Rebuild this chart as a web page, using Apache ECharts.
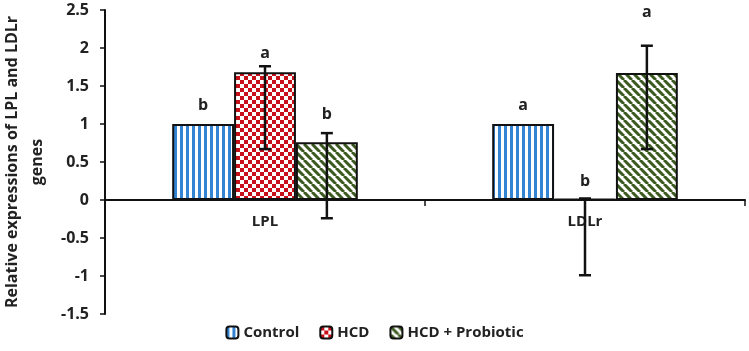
<!DOCTYPE html>
<html>
<head>
<meta charset="utf-8">
<script src="https://cdn.jsdelivr.net/npm/echarts@6/dist/echarts.min.js"></script>
<style>
  html, body { margin: 0; padding: 0; background: #fff; }
  #chart { width: 749px; height: 351px; }
</style>
</head>
<body>
<div id="chart"></div>
<script>
// data
const categories = ['LPL', 'LDLr'];
const seriesNames = ['Control', 'HCD', 'HCD + Probiotic'];
const controlValues = [1.0, 1.0];
const hcdValues = [1.68, 0.01];
const probioticValues = [0.76, 1.67];
// error bar ends [low, high]
const controlErr = [null, null];
const hcdErr = [[0.67, 1.76], [-0.99, 0.02]];
const probioticErr = [[-0.24, 0.88], [0.67, 2.03]];
// significance letters and their heights
const controlLetters = ['b', 'a'];
const hcdLetters = ['a', 'b'];
const probioticLetters = ['b', 'a'];
const controlLetterY = [1.25, 1.25];
const hcdLetterY = [1.93, 0.25];
const probioticLetterY = [1.12, 2.47];

const FONT = '"Open Sans", sans-serif';

function makePattern(kind) {
    const c = document.createElement('canvas');
    const ctx = c.getContext('2d');
    if (kind === 'stripes') {
        c.width = 6; c.height = 6;
        ctx.fillStyle = '#ffffff';
        ctx.fillRect(0, 0, 6, 6);
        ctx.fillStyle = '#3384d2';
        ctx.fillRect(0, 0, 3, 6);
    } else if (kind === 'checker') {
        c.width = 8; c.height = 8;
        ctx.fillStyle = '#ffffff';
        ctx.fillRect(0, 0, 8, 8);
        ctx.fillStyle = '#c8101a';
        ctx.fillRect(0, 0, 4, 4);
        ctx.fillRect(4, 4, 4, 4);
    } else {
        c.width = 8; c.height = 8;
        ctx.fillStyle = '#ffffff';
        ctx.fillRect(0, 0, 8, 8);
        ctx.strokeStyle = '#3b5a1f';
        ctx.lineWidth = 3;
        ctx.beginPath();
        for (let k = -8; k <= 16; k += 8) {
            ctx.moveTo(k, 0);
            ctx.lineTo(k + 8, 8);
        }
        ctx.stroke();
    }
    return { image: c, repeat: 'repeat' };
}

const patterns = [makePattern('stripes'), makePattern('checker'), makePattern('diag')];
const values = [controlValues, hcdValues, probioticValues];
const errs = [controlErr, hcdErr, probioticErr];
const letters = [controlLetters, hcdLetters, probioticLetters];
const letterY = [controlLetterY, hcdLetterY, probioticLetterY];

const barGroupRatio = 0.58;

function errorSeries(idx) {
    const data = categories.map((c, i) => [i, values[idx][i],
        errs[idx][i] ? errs[idx][i][0] : NaN,
        errs[idx][i] ? errs[idx][i][1] : NaN,
        letterY[idx][i]]);
    return {
        type: 'custom',
        name: seriesNames[idx] + ' err',
        silent: true,
        z: 10,
        data: data,
        renderItem: function (params, api) {
            const cat = api.value(0);
            const bandW = api.size([1, 0])[0];
            const bw = bandW * barGroupRatio / 3;
            const dx = (idx - 1) * bw;
            const children = [];
            const lo = api.value(2), hi = api.value(3);
            if (!isNaN(lo)) {
                const pLo = api.coord([cat, lo]);
                const pHi = api.coord([cat, hi]);
                const x = pLo[0] + dx;
                const style = { stroke: '#111', lineWidth: 2.5 };
                children.push({ type: 'line', shape: { x1: x, y1: pLo[1], x2: x, y2: pHi[1] }, style: style });
                children.push({ type: 'line', shape: { x1: x - 6, y1: pLo[1], x2: x + 6, y2: pLo[1] }, style: style });
                children.push({ type: 'line', shape: { x1: x - 6, y1: pHi[1], x2: x + 6, y2: pHi[1] }, style: style });
            }
            const pL = api.coord([cat, api.value(4)]);
            children.push({
                type: 'text',
                x: pL[0] + dx,
                y: pL[1],
                style: {
                    text: letters[idx][params.dataIndex],
                    fill: '#222',
                    font: 'bold 16px ' + FONT,
                    align: 'center',
                    verticalAlign: 'middle'
                }
            });
            return { type: 'group', children: children };
        }
    };
}

// category names drawn just under the zero line
const catLabelSeries = {
    type: 'custom',
    silent: true,
    z: 5,
    data: categories.map((c, i) => [i, 0]),
    renderItem: function (params, api) {
        const p = api.coord([api.value(0), 0]);
        return {
            type: 'text',
            x: p[0],
            y: p[1] + 22,
            style: {
                text: categories[params.dataIndex],
                fill: '#222',
                font: 'bold 15px ' + FONT,
                align: 'center',
                verticalAlign: 'middle'
            }
        };
    }
};

const chart = echarts.init(document.getElementById('chart'));

const barSeries = seriesNames.map((name, idx) => ({
    name: name,
    type: 'bar',
    data: values[idx],
    barGap: '0%',
    barCategoryGap: '42%',
    itemStyle: {
        color: patterns[idx],
        borderColor: '#111',
        borderWidth: 2
    }
}));

const option = {
    animation: false,
    grid: { left: 105, right: 4, top: 10, bottom: 37, containLabel: false, outerBoundsMode: 'none' },
    legend: {
        data: seriesNames,
        bottom: 6,
        left: 'center',
        itemWidth: 12,
        itemHeight: 12,
        itemGap: 20,
        textStyle: { fontFamily: FONT, fontWeight: 'bold', fontSize: 15, color: '#222' }
    },
    xAxis: {
        type: 'category',
        data: categories,
        axisLine: { onZero: true, lineStyle: { color: '#111', width: 2 } },
        axisTick: { show: true, length: 6, lineStyle: { color: '#111', width: 1.5 } },
        axisLabel: { show: false }
    },
    yAxis: {
        type: 'value',
        min: -1.5,
        max: 2.5,
        interval: 0.5,
        name: 'Relative expressions of LPL and LDLr\ngenes',
        nameLocation: 'middle',
        nameGap: 54,
        nameTextStyle: { fontFamily: FONT, fontWeight: 'bold', fontSize: 16, color: '#222', lineHeight: 25 },
        splitLine: { show: false },
        axisLine: { show: true, lineStyle: { color: '#111', width: 2 } },
        axisTick: { show: true, length: 5, lineStyle: { color: '#111', width: 1.5 } },
        axisLabel: { fontFamily: FONT, fontWeight: 'bold', fontSize: 16, color: '#222', margin: 16 }
    },
    series: barSeries.concat([errorSeries(0), errorSeries(1), errorSeries(2), catLabelSeries])
};

chart.setOption(option);
</script>
</body>
</html>
